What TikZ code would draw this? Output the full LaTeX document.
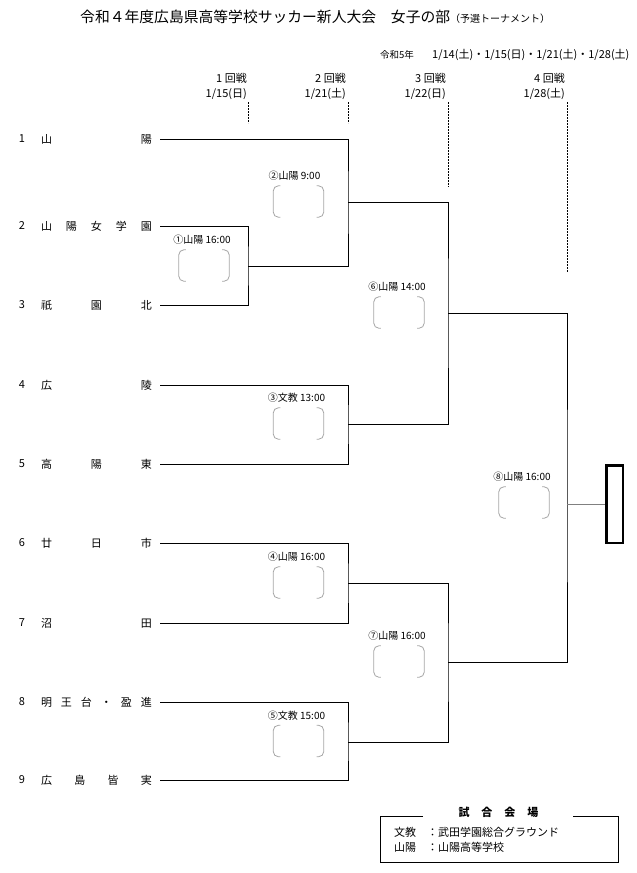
\documentclass[tikz,border=0pt]{standalone}
\usepackage{fontspec}
\setmainfont{Noto Sans CJK JP}
\usetikzlibrary{positioning}

\newcommand\brackets[1]{%
  \draw[sline] ([xshift=7pt]#1.north west) -- (#1.north west) -- (#1.south west) -- ([xshift=7pt]#1.south west);
  \draw[sline] ([xshift=-7pt]#1.north east) -- (#1.north east) -- (#1.south east) -- ([xshift=-7pt]#1.south east);}

\begin{document}
\begin{tikzpicture}[x=1pt, y=-1pt,
    every node/.style={inner sep=0pt, font=\fontsize{11}{13}\selectfont},
    team/.style={anchor=west, outer xsep=8pt},
    num/.style={},
    bline/.style={line width=1pt},
    guide/.style={line width=1pt, dash pattern=on 2pt off 1pt},
    score/.style={minimum width=50pt, minimum height=31pt},
    sline/.style={gray!70, line width=0.8pt, rounded corners=5pt},
    matchlabel/.style={font=\fontsize{10}{12}\selectfont},
    winner/.style={draw, line width=2.5pt, minimum width=16.5pt, minimum height=77.5pt},
    frame/.style={line width=0.8pt}
  ]
  \useasboundingbox (0,0) rectangle (637,873);

  % title and dates
  \node[anchor=west] (title) at (80,17) {\fontsize{14.8}{16}\selectfont 令和４年度広島県高等学校サッカー新人大会　女子の部\fontsize{10}{12}\selectfont （予選トーナメント）};
  \node[anchor=west, font=\fontsize{9.5}{11}\selectfont] (era) at (380,55) {令和5年};
  \node[anchor=west, font=\fontsize{11}{13}\selectfont] (dates) at (432,55) {1/14(土)・1/15(日)・1/21(土)・1/28(土)};

  % rounds
  \foreach \k/\x/\d in {1/247/{1/15(日)}, 2/346/{1/21(土)}, 3/446/{1/22(日)}, 4/565/{1/28(土)}}
  {
    \node[anchor=east] (r\k) at (\x,78) {\k\ 回戦};
    \node[anchor=east] (d\k) at (\x,94) {\d};
  }

  % teams
  \foreach \i/\y/\name in {1/139/{山\hfill 陽}, 2/226/{山\hfill 陽\hfill 女\hfill 学\hfill 園},
      3/305/{祇\hfill 園\hfill 北}, 4/385/{広\hfill 陵}, 5/464/{高\hfill 陽\hfill 東},
      6/543/{廿\hfill 日\hfill 市}, 7/623/{沼\hfill 田},
      8/702/{明\hfill 王\hfill 台\hfill ・\hfill 盈\hfill 進}, 9/780/{広\hfill 島\hfill 皆\hfill 実}}
  {
    \node[num] (n\i) at (22,\y) {\i};
    \node[team] (t\i) at (33,\y) {\makebox[111pt]{\name}};
  }

  % matches
  \coordinate (m1) at (248,266);
  \coordinate (m2) at (348,202);
  \coordinate (m3) at (348,424);
  \coordinate (m4) at (348,583);
  \coordinate (m5) at (348,742);
  \coordinate (m6) at (448,313);
  \coordinate (m7) at (448,662);
  \coordinate (m8) at (567,504);
  \node[winner] (win) at (614.5,504) {};

  \draw[guide] (m1 |- 0,102) -- (m1 |- 0,123);
  \draw[guide] (m2 |- 0,102) -- (m2 |- 0,123);
  \draw[guide] (m6 |- 0,102) -- (m6 |- 0,187);
  \draw[guide] (m8 |- 0,102) -- (m8 |- 0,272);

  \draw[bline] (t2.east) -| (m1) |- (t3.east);
  \draw[bline] (t1.east) -| (m2) |- (m1);
  \draw[bline] (t4.east) -| (m3) |- (t5.east);
  \draw[bline] (t6.east) -| (m4) |- (t7.east);
  \draw[bline] (t8.east) -| (m5) |- (t9.east);
  \draw[bline] (m2) -| (m6) |- (m3);
  \draw[bline] (m4) -| (m7) |- (m5);
  \draw[bline] (m6) -| (m8) |- (m7);
  \draw[bline, gray] (m8) -- (win);

  % score boxes
  \node[score] (s1) at (204,265.5) {};
  \node[score] (s2) at (298.5,201.5) {};
  \node[score] (s3) at (298.5,423.5) {};
  \node[score] (s4) at (298.5,582.5) {};
  \node[score] (s5) at (298.5,741) {};
  \node[score] (s6) at (399,312.5) {};
  \node[score] (s7) at (399,661.5) {};
  \node[score] (s8) at (524,502.5) {};
  \foreach \i in {1,...,8} {\brackets{s\i}}

  \node[matchlabel, above=5pt of s1, xshift=-2pt] (l1) {①山陽 16:00};
  \node[matchlabel, above=5pt of s2, xshift=-4pt] (l2) {②山陽 9:00};
  \node[matchlabel, above=5pt of s3, xshift=-2pt] (l3) {③文教 13:00};
  \node[matchlabel, above=5pt of s4, xshift=-2pt] (l4) {④山陽 16:00};
  \node[matchlabel, above=5pt of s5, xshift=-2pt] (l5) {⑤文教 15:00};
  \node[matchlabel, above=5pt of s6, xshift=-2pt] (l6) {⑥山陽 14:00};
  \node[matchlabel, above=5pt of s7, xshift=-2pt] (l7) {⑦山陽 16:00};
  \node[matchlabel, above=5pt of s8, xshift=-2pt] (l8) {⑧山陽 16:00};

  % venues
  \node (venue) at (498.5,812) {\bfseries\makebox[80pt]{試\hfill 合\hfill 会\hfill 場}};
  \draw[frame] (423,816) -| (380,862) -| (618,816) -- (573,816);
  \node[anchor=west] (v1) at (394,832) {文教　：武田学園総合グラウンド};
  \node[anchor=west] (v2) at (394,847) {山陽　：山陽高等学校};
\end{tikzpicture}
\end{document}
